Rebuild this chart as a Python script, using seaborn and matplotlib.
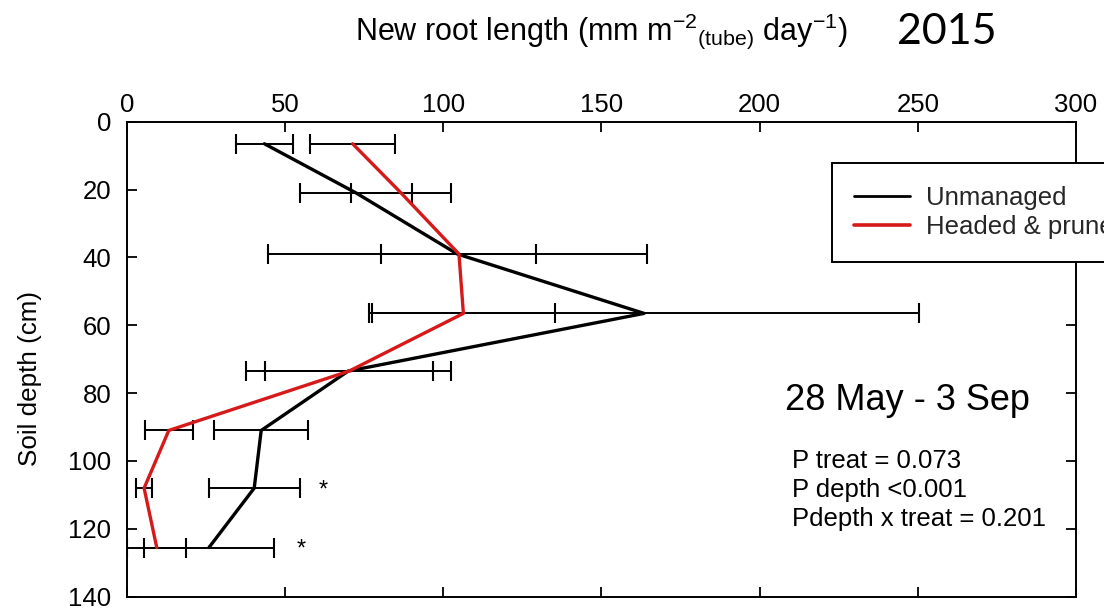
import matplotlib
matplotlib.use("Agg")
import matplotlib.pyplot as plt
import seaborn as sns
import pandas as pd
from matplotlib.lines import Line2D

# Soil depth of each minirhizotron frame (cm)
depth = [6.5, 21, 39, 56.5, 73.5, 91, 108, 125.5]

# New root length (mm m-2 tube day-1), mean and standard error per depth
unmanaged = [43.5, 72.5, 104.5, 163.5, 70, 42.5, 40.3, 26]
unmanaged_se = [9.1, 17.6, 59.8, 87, 32.4, 14.9, 14.4, 20.5]
headed = [71.4, 86.7, 105, 106.4, 70.3, 13.3, 5.5, 9.5]
headed_se = [13.4, 15.9, 24.5, 28.9, 26.5, 7.5, 2.6, 9.3]

treatments = ["Unmanaged", "Headed & pruned"]
colors = {"Unmanaged": "#000000", "Headed & pruned": "#d61a1a"}

# Depths flagged as significantly different between treatments
star_depth = [108, 125.5]
star_x = [62, 55]

x_ticks = [0, 50, 100, 150, 200, 250, 300]
y_ticks = [0, 20, 40, 60, 80, 100, 120, 140]

df = pd.DataFrame({
    "depth": depth * 2,
    "length": unmanaged + headed,
    "se": unmanaged_se + headed_se,
    "treatment": [treatments[0]] * len(depth) + [treatments[1]] * len(depth),
})

sns.set_theme(style="ticks")
plt.rcParams["font.family"] = ["Liberation Sans", "DejaVu Sans"]
plt.rcParams["mathtext.fontset"] = "custom"
plt.rcParams["mathtext.rm"] = "Liberation Sans"
plt.rcParams["mathtext.it"] = "Liberation Sans:italic"
plt.rcParams["mathtext.bf"] = "Liberation Sans:bold"
plt.rcParams["mathtext.default"] = "regular"

W, H = 1104, 609
fig = plt.figure(figsize=(W / 100, H / 100), dpi=100)
fig.patch.set_facecolor("white")
ax = fig.add_axes([126.7 / W, 1 - 596.7 / H, (1076 - 126.7) / W, (596.7 - 121.7) / H])

# Error bars (black for both treatments), drawn beneath the profile lines
for t in treatments:
    sub = df[df["treatment"] == t]
    ax.errorbar(sub["length"], sub["depth"], xerr=sub["se"], fmt="none",
                ecolor="black", elinewidth=1.4, capsize=7.2, capthick=1.5,
                zorder=2, clip_on=True)

sns.lineplot(data=df, x="length", y="depth", hue="treatment", orient="y",
             sort=True, palette=colors, hue_order=treatments,
             linewidth=2.4, ax=ax, legend=False, zorder=3)

ax.set_xlim(0, 300)
ax.set_ylim(140, 0)
ax.set_xticks(x_ticks)
ax.set_yticks(y_ticks)
ax.xaxis.set_label_position("top")
ax.tick_params(axis="x", which="both", direction="in", length=7.2, width=1.3,
               top=True, bottom=True, labeltop=True, labelbottom=False,
               labelsize=18.5, pad=3.4, colors="black")
ax.tick_params(axis="y", which="both", direction="in", length=7.2, width=1.3,
               left=True, right=True, labelleft=True, labelright=False,
               labelsize=18.5, pad=11, colors="black")
for s in ax.spines.values():
    s.set_visible(True)
    s.set_linewidth(1.4)
    s.set_color("black")
ax.set_xlabel("")
ax.set_ylabel("")

# Axis titles
fig.text(601.5 / W, 1 - 40 / H,
         r"New root length (mm m$^{-2}$$_{(tube)}$ day$^{-1}$)",
         ha="center", va="baseline", fontsize=22, color="black")
fig.text(30 / W, 1 - 378 / H, "Soil depth (cm)", rotation=90,
         ha="center", va="center", fontsize=18.7, color="black")
fig.text(897 / W, 1 - 44 / H, "2015", ha="left", va="baseline",
         fontsize=31, family=["Lato", "DejaVu Sans"], color="black")

# Significance markers
for xs, ds in zip(star_x, star_depth):
    ax.text(xs, ds + 2.4, "*", ha="center", va="baseline", fontsize=17,
            color="black")

# Period and statistics
fig.text(785 / W, 1 - 410 / H, "28 May - 3 Sep", ha="left", va="baseline",
         fontsize=26, color="black")
stats = ["P treat = 0.073", "P depth <0.001", "Pdepth x treat = 0.201"]
for i, line in enumerate(stats):
    fig.text(791.7 / W, 1 - (468.3 + 29 * i) / H, line, ha="left",
             va="baseline", fontsize=18.5, color="black")

handles = [Line2D([0], [0], color=colors["Unmanaged"], lw=2.0),
           Line2D([0], [0], color=colors["Headed & pruned"], lw=2.6)]
leg = ax.legend(handles, treatments, loc="upper left",
                bbox_to_anchor=(831.7 / W, 1 - 163.3 / H),
                bbox_transform=fig.transFigure, borderaxespad=0,
                fontsize=18.5, frameon=True, fancybox=False, shadow=False,
                borderpad=0.88, labelspacing=0.2, handlelength=2.17,
                handletextpad=0.62)
leg.get_frame().set_edgecolor("black")
leg.get_frame().set_linewidth(1.4)
leg.get_frame().set_facecolor("white")
leg.get_frame().set_alpha(1)
leg.set_zorder(10)

fig.savefig("out.png", dpi=100)
